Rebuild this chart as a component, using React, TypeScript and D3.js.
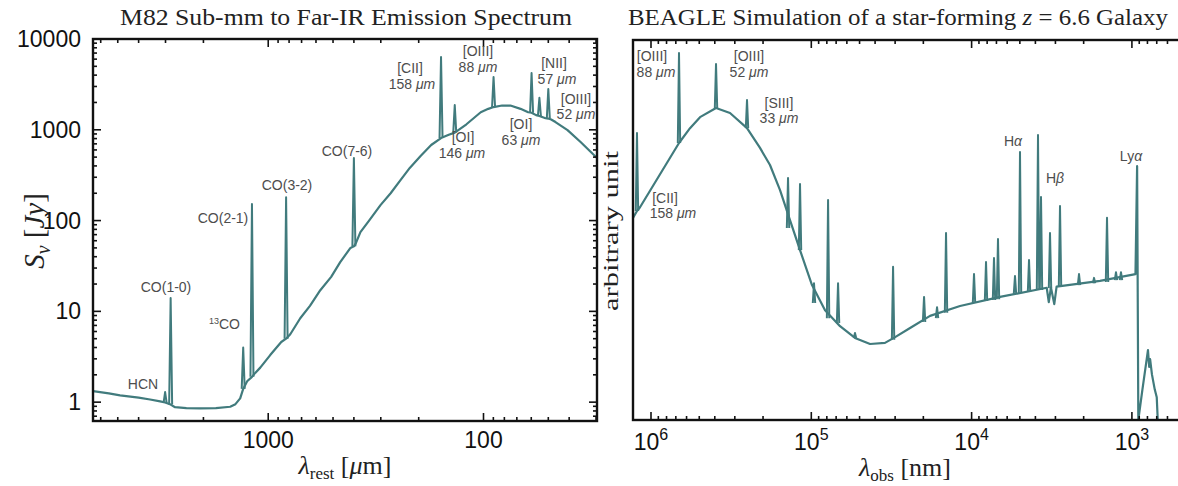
import React from "react";
import * as d3 from "d3";

const TEAL = "#417b7d";
const LABEL = "#4d4d4d";
const SANS = "'Liberation Sans', Arial, Helvetica, sans-serif";
const SERIF = "'Liberation Serif', 'Times New Roman', serif";

// ---------------- Left panel: M82 (wavelength in µm, flux in Jy) ----------------
const m82Continuum: [number, number][] = [
  [6516, 1.32], [5500, 1.25], [4877, 1.19], [4000, 1.12], [3538, 1.07], [3178, 1.02],
  [3013, 0.99], [2840, 0.94], [2709, 0.88], [2400, 0.86], [2071, 0.855], [1750, 0.86],
  [1502, 0.89], [1420, 0.95], [1350, 1.1], [1307, 1.4], [1253, 1.7], [1190, 1.9],
  [1149, 2.1], [1089, 2.4], [979, 3.3], [870, 4.6], [826, 5.0], [790, 5.6], [710, 8.4],
  [640, 11.5], [573, 17.1], [510, 24], [463, 34.9], [415, 50], [400, 52], [392, 56],
  [373, 74.7], [340, 100], [301, 148], [270, 200], [243, 279], [220, 380], [196, 514],
  [175, 680], [157.5, 810], [145, 880], [136, 930], [120, 1150], [103, 1560], [95, 1700],
  [89.8, 1780], [82, 1850], [75, 1850], [67.3, 1700], [62, 1560], [59.8, 1540], [57, 1450],
  [55, 1420], [51.5, 1340], [50, 1330], [48.5, 1300], [46.3, 1217], [40.7, 993],
  [35.4, 733], [29.7, 489],
];
// [wavelength, continuum level, peak]
const m82Lines: [number, number, number][] = [
  [3013, 0.99, 1.29],   // HCN
  [2840, 0.94, 14],     // CO(1-0)
  [1307, 1.4, 4.0],     // 13CO
  [1190, 1.9, 152],     // CO(2-1)
  [826, 5.0, 181],      // CO(3-2)
  [400, 52, 489],       // CO(7-6)
  [157.5, 810, 6339],   // [CII]
  [136, 930, 1874],     // [OI] 146
  [89.8, 1780, 3812],   // [OIII] 88
  [59.8, 1540, 4219],   // [NII]
  [55, 1420, 2253],
  [50, 1330, 2812],     // [OIII] 52
];
const m82YTicks = [1, 10, 100, 1000, 10000];
const m82YTickLabels = ["1", "10", "100", "1000", "10000"];
const m82XTicks = [1000, 100];
const m82XTickLabels = ["1000", "100"];

// ---------------- Right panel: BEAGLE (observed wavelength in nm, arbitrary units) ----------------
const beagleContinuum: [number, number][] = [
  [1.295e6, 53.2], [1.223e6, 55.0], [1.171e6, 56], [6.688e5, 72.9], [5.71e5, 76.8],
  [4.945e5, 79.7], [3.93e5, 82.1], [3.215e5, 80.8], [2.518e5, 76.8], [2.089e5, 71.6],
  [1.81e5, 67.1], [1.567e5, 60.5], [1.358e5, 52.6], [1.176e5, 44.7], [9.9e4, 35.5],
  [8.21e4, 28.9], [6.62e4, 24.7], [5.34e4, 21.6], [4.3e4, 20], [3.47e4, 20.3],
  [3.0e4, 21.8], [2.42e4, 24.2], [1.817e4, 27.4], [1.181e4, 30], [6650, 32.4],
  [3400, 34.8], [3300, 31], [3200, 34.9], [3050, 30.5], [2950, 35.1],
  [1581, 36.6], [950, 38.4], [928, 66.8], [912, 0], [860, 8], [794, 18.4],
  [780, 14], [770, 16], [750, 12], [720, 8], [700, 6], [690, 0],
];
const beagleLines: [number, number, number][] = [
  [1.223e6, 55.0, 75.5],  // [CII] 158
  [6.688e5, 72.9, 96.6],  // [OIII] 88
  [3.93e5, 82.1, 93.7],   // [OIII] 52
  [2.518e5, 76.8, 84.2],  // [SIII] 33
  [1.397e5, 50.5, 63.7],
  [1.176e5, 44.7, 62.1],
  [9.62e4, 30.8, 36],
  [7.86e4, 26.8, 57.9],
  [6.81e4, 25.5, 36],
  [5.34e4, 21.6, 22.9],
  [3.09e4, 21.1, 40.3],
  [1.98e4, 25.8, 32.4],
  [1.643e4, 26.8, 29.7],
  [1.444e4, 28.2, 49.2],
  [9660, 30.8, 38.4],
  [8130, 31.3, 41.6],
  [7250, 31.6, 42.6],
  [6845, 31.8, 47.6],
  [5362, 33.2, 37.9],
  [4990, 33.4, 70.5],     // Hα
  [4384, 33.7, 42.1],
  [3853, 34.2, 75],       // [OIII] 5007
  [3690, 34.2, 58.7],     // Hβ
  [3243, 34.7, 49.2],
  [2809, 35, 56.3],
  [2138, 35.5, 38.4],
  [1723, 36, 37.4],
  [1430, 36.3, 53.2],
  [1257, 36.8, 38.9],
  [1170, 36.8, 38.9],
];
const beagleXTicks = [1e6, 1e5, 1e4, 1e3];
const beagleXTickExp = ["6", "5", "4", "3"];

function logTicks(domain: [number, number]) {
  const lo = Math.min(domain[0], domain[1]);
  const hi = Math.max(domain[0], domain[1]);
  const out: { v: number; major: boolean }[] = [];
  for (let d = Math.floor(Math.log10(lo)); d <= Math.ceil(Math.log10(hi)); d++) {
    for (let k = 1; k <= 9; k++) {
      const v = k * Math.pow(10, d);
      if (v >= lo * 0.999 && v <= hi * 1.001) out.push({ v, major: k === 1 });
    }
  }
  return out;
}

const MU = (txt: string) => (
  <>
    <tspan>{txt} </tspan>
    <tspan fontStyle="italic">μm</tspan>
  </>
);

export default function App() {
  const L = { x0: 93, x1: 597, y0: 39, y1: 421 };
  const R = { x0: 633, x1: 1182, y0: 40, y1: 420 };

  const xL = d3.scaleLog().domain([6516, 29.7]).range([L.x0, L.x1]);
  const yL = d3.scaleLog().domain([0.62, 10000]).range([L.y1, L.y0]);
  const xR = d3.scaleLog().domain([1.295e6, 487]).range([R.x0, R.x1]);
  const yR = d3.scaleLinear().domain([0, 100]).range([R.y1, R.y0]);

  const lineL = d3.line<[number, number]>().x((d) => xL(d[0])).y((d) => yL(d[1]));
  const lineR = d3.line<[number, number]>().x((d) => xR(d[0])).y((d) => yR(d[1]));

  const spikes = (lines: [number, number, number][], xs: any, ys: any, hw: number) =>
    lines
      .map(([w, b, p]) => {
        const x = xs(w);
        return `M${x - hw},${ys(b)}L${x},${ys(p)}L${x + hw},${ys(b)}`;
      })
      .join("");

  const xTicksL = logTicks([6516, 29.7]);
  const yTicksL = logTicks([0.62, 10000]);
  const xTicksR = logTicks([1.295e6, 487]);

  const MAJ = 8;
  const MIN = 4;

  return (
    <svg
      width={1178}
      height={486}
      style={{ position: "absolute", left: 0, top: 0, background: "#fff" }}
      fontFamily={SANS}
    >
      <defs>
        <clipPath id="clipL">
          <rect x={L.x0} y={L.y0} width={L.x1 - L.x0} height={L.y1 - L.y0} />
        </clipPath>
        <clipPath id="clipR">
          <rect x={R.x0} y={R.y0} width={R.x1 - R.x0} height={R.y1 - R.y0} />
        </clipPath>
      </defs>

      {/* ---------- LEFT PANEL ---------- */}
      <text x={346} y={25} textAnchor="middle" fontFamily={SERIF} fontSize={23} fill="#222"
        textLength={452} lengthAdjust="spacingAndGlyphs">
        M82 Sub-mm to Far-IR Emission Spectrum
      </text>
      <g clipPath="url(#clipL)" fill="none" stroke={TEAL} strokeLinejoin="round">
        <path d={lineL(m82Continuum) || ""} strokeWidth={2.2} />
        <path d={spikes(m82Lines, xL, yL, 1.5)} strokeWidth={2} />
      </g>
      <g stroke="#111" strokeWidth={1.6}>
        {xTicksL.map((t, i) => {
          const x = xL(t.v);
          const len = t.major ? MAJ : MIN;
          return (
            <g key={"xl" + i}>
              <line x1={x} x2={x} y1={L.y1} y2={L.y1 - len} />
              <line x1={x} x2={x} y1={L.y0} y2={L.y0 + len} />
            </g>
          );
        })}
        {yTicksL.map((t, i) => {
          const y = yL(t.v);
          const len = t.major ? MAJ : MIN;
          return (
            <g key={"yl" + i}>
              <line x1={L.x0} x2={L.x0 + len} y1={y} y2={y} />
              <line x1={L.x1} x2={L.x1 - len} y1={y} y2={y} />
            </g>
          );
        })}
      </g>
      <rect x={L.x0} y={L.y0} width={L.x1 - L.x0} height={L.y1 - L.y0} fill="none" stroke="#111" strokeWidth={2.4} />
      {m82YTicks.map((v, i) => (
        <text key={"ylab" + i} x={L.x0 - 12} y={yL(v)} dy="0.35em" textAnchor="end" fontSize={23} fill="#111">
          {m82YTickLabels[i]}
        </text>
      ))}
      {m82XTicks.map((v, i) => (
        <text key={"xlab" + i} x={xL(v)} y={448} textAnchor="middle" fontSize={23} fill="#111">
          {m82XTickLabels[i]}
        </text>
      ))}
      <text x={345} y={474} textAnchor="middle" fontFamily={SERIF} fontSize={26} fill="#222">
        <tspan fontStyle="italic">λ</tspan>
        <tspan fontSize={17} dy={5}>rest</tspan>
        <tspan dy={-5}> [</tspan>
        <tspan fontStyle="italic">μ</tspan>
        <tspan>m]</tspan>
      </text>
      <text transform="translate(44,231) rotate(-90)" textAnchor="middle" fontFamily={SERIF} fontSize={29} fill="#222">
        <tspan fontStyle="italic">S</tspan>
        <tspan fontStyle="italic" fontSize={20} dy={6}>ν</tspan>
        <tspan dy={-6}> [</tspan>
        <tspan fontStyle="italic">Jy</tspan>
        <tspan>]</tspan>
      </text>

      <g fontSize={14} fill={LABEL}>
        <text x={143} y={389} textAnchor="middle">HCN</text>
        <text x={166} y={292} textAnchor="middle">CO(1-0)</text>
        <text x={240} y={329} textAnchor="end">
          <tspan fontSize={9} dy={-5}>13</tspan>
          <tspan dy={5}>CO</tspan>
        </text>
        <text x={223} y={223} textAnchor="middle">CO(2-1)</text>
        <text x={287} y={190} textAnchor="middle">CO(3-2)</text>
        <text x={347} y={156} textAnchor="middle">CO(7-6)</text>
        <text x={410} y={73} textAnchor="middle">[CII]</text>
        <text x={412} y={89} textAnchor="middle">{MU("158")}</text>
        <text x={478} y={56} textAnchor="middle">[OIII]</text>
        <text x={478} y={72} textAnchor="middle">{MU("88")}</text>
        <text x={463} y={142} textAnchor="middle">[OI]</text>
        <text x={462} y={158} textAnchor="middle">{MU("146")}</text>
        <text x={521} y={129} textAnchor="middle">[OI]</text>
        <text x={521} y={145} textAnchor="middle">{MU("63")}</text>
        <text x={554} y={68} textAnchor="middle">[NII]</text>
        <text x={557} y={84} textAnchor="middle">{MU("57")}</text>
        <text x={576} y={104} textAnchor="middle">[OIII]</text>
        <text x={576} y={119} textAnchor="middle">{MU("52")}</text>
      </g>

      {/* ---------- RIGHT PANEL ---------- */}
      <text x={898} y={25} textAnchor="middle" fontFamily={SERIF} fontSize={23} fill="#222"
        textLength={540} lengthAdjust="spacingAndGlyphs">
        <tspan>BEAGLE Simulation of a star-forming </tspan>
        <tspan fontStyle="italic">z</tspan>
        <tspan> = 6.6 Galaxy</tspan>
      </text>
      <g clipPath="url(#clipR)" fill="none" stroke={TEAL} strokeLinejoin="round">
        <path d={lineR(beagleContinuum) || ""} strokeWidth={2.2} />
        <path d={spikes(beagleLines, xR, yR, 1.2)} strokeWidth={2} />
      </g>
      <g stroke="#111" strokeWidth={1.6}>
        {xTicksR.map((t, i) => {
          const x = xR(t.v);
          const len = t.major ? MAJ : MIN;
          return (
            <g key={"xr" + i}>
              <line x1={x} x2={x} y1={R.y1} y2={R.y1 - len} />
              <line x1={x} x2={x} y1={R.y0} y2={R.y0 + len} />
            </g>
          );
        })}
      </g>
      <rect x={R.x0} y={R.y0} width={R.x1 - R.x0} height={R.y1 - R.y0} fill="none" stroke="#111" strokeWidth={2.4} />
      {beagleXTicks.map((v, i) => (
        <text key={"xrl" + i} x={xR(v)} y={450} textAnchor="middle" fontSize={23} fill="#111">
          10
          <tspan fontSize={16} dy={-10}>{beagleXTickExp[i]}</tspan>
        </text>
      ))}
      <text x={905} y={476} textAnchor="middle" fontFamily={SERIF} fontSize={26} fill="#222">
        <tspan fontStyle="italic">λ</tspan>
        <tspan fontSize={17} dy={5}>obs</tspan>
        <tspan dy={-5}> [nm]</tspan>
      </text>
      <text transform="translate(618,231) rotate(-90)" textAnchor="middle" fontFamily={SERIF} fontSize={21} fill="#222"
        textLength={160} lengthAdjust="spacingAndGlyphs">
        arbitrary unit
      </text>

      <g fontSize={14} fill={LABEL}>
        <text x={652} y={61} textAnchor="middle">[OIII]</text>
        <text x={656} y={77} textAnchor="middle">{MU("88")}</text>
        <text x={749} y={61} textAnchor="middle">[OIII]</text>
        <text x={749} y={77} textAnchor="middle">{MU("52")}</text>
        <text x={779} y={108} textAnchor="middle">[SIII]</text>
        <text x={779} y={123} textAnchor="middle">{MU("33")}</text>
        <text x={665} y={203} textAnchor="middle">[CII]</text>
        <text x={673} y={218} textAnchor="middle">{MU("158")}</text>
        <text x={1013} y={146} textAnchor="middle">
          H<tspan fontStyle="italic">α</tspan>
        </text>
        <text x={1055} y={183} textAnchor="middle">
          H<tspan fontStyle="italic">β</tspan>
        </text>
        <text x={1131} y={161} textAnchor="middle">
          Ly<tspan fontStyle="italic">α</tspan>
        </text>
      </g>
    </svg>
  );
}
